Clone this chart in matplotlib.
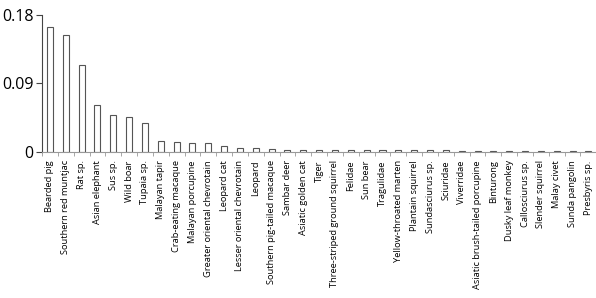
import numpy as np
import matplotlib.pyplot as plt

species = ['Bearded pig', 'Southern red muntjac', 'Rat sp.', 'Asian elephant', 'Sus sp.',
           'Wild boar', 'Tupaia sp.', 'Malayan tapir', 'Crab-eating macaque',
           'Malayan porcupine', 'Greater oriental chevrotain', 'Leopard cat',
           'Lesser oriental chevrotain', 'Leopard', 'Southern pig-tailed macaque',
           'Sambar deer', 'Asiatic golden cat', 'Tiger', 'Three-striped ground squirrel',
           'Felidae', 'Sun bear', 'Tragulidae', 'Yellow-throated marten',
           'Plantain squirrel', 'Sundasciurus sp.', 'Sciuridae', 'Viverridae',
           'Asiatic brush-tailed porcupine', 'Binturong', 'Dusky leaf monkey',
           'Callosciurus sp.', 'Slender squirrel', 'Malay civet', 'Sunda pangolin',
           'Presbyris sp.']
values = [0.164, 0.154, 0.114, 0.062, 0.0486, 0.046, 0.0385, 0.0145, 0.0136,
          0.0118, 0.0114, 0.0079, 0.0053, 0.0053, 0.004, 0.003, 0.0027, 0.0027,
          0.0027, 0.0027, 0.0027, 0.0027, 0.0027, 0.0027, 0.0027, 0.0025, 0.0016,
          0.0016, 0.0016, 0.0016, 0.0016, 0.0015, 0.0015, 0.0015, 0.0015]
yticks = [0, 0.09, 0.18]
ylabels = ['0', '0.09', '0.18']

fig = plt.figure(figsize=(5.96, 2.98), dpi=100)
ax = fig.add_axes([0.0705, 0.49, 0.93, 0.46])

x = np.arange(len(species))
ax.bar(x, values, width=0.38, color='white', edgecolor='#555555', linewidth=0.8)

ax.set_xlim(-0.5, len(species) - 0.5)
ax.set_ylim(0, 0.18)
ax.set_yticks(yticks)
ax.set_yticklabels(ylabels, fontsize=11.5, family='Open Sans')
ax.set_xticks(x)
ax.set_xticklabels(species, rotation=90, fontsize=6.7, family='Open Sans')
ax.set_xticks(np.arange(len(species) + 1) - 0.5, minor=True)
ax.tick_params(axis='x', which='major', length=0, pad=6)
ax.tick_params(axis='x', which='minor', length=3, color='#999999')
ax.tick_params(axis='y', length=4, pad=2, color='#444444')

for s in ['top', 'right']:
    ax.spines[s].set_visible(False)
ax.spines['bottom'].set_color('#999999')
ax.spines['left'].set_color('#444444')

fig.savefig('out.png', dpi=100)
